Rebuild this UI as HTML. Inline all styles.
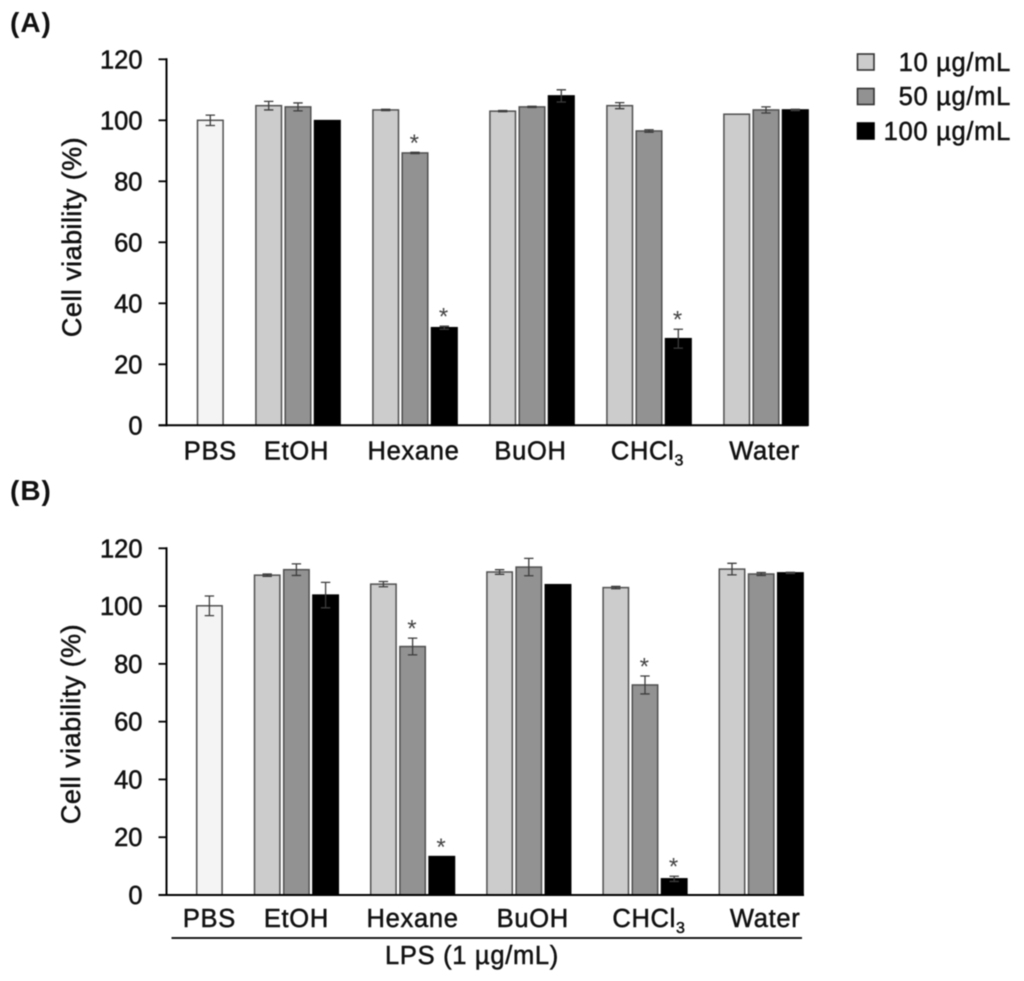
<!DOCTYPE html>
<html lang="en">
<head>
<meta charset="utf-8">
<title>Cell viability chart</title>
<style>
html,body{margin:0;padding:0;background:#fff;width:1024px;height:981px;overflow:hidden}
svg{display:block;filter:blur(0.45px)}
text{font-family:"Liberation Sans",sans-serif;fill:#111}
.t{font-size:25.5px;stroke:#111;stroke-width:.5px}
.w{letter-spacing:.7px}
.title{font-size:27px;letter-spacing:.45px}
</style>
</head>
<body>
<svg id="figure" xmlns="http://www.w3.org/2000/svg" width="1024" height="981" viewBox="0 0 1024 981">
  <text x="10" y="32" font-size="28" font-weight="bold" letter-spacing="1">(A)</text>
  <text x="10" y="500" font-size="28" font-weight="bold" letter-spacing="1">(B)</text>
  <g>
    <rect x="857.5" y="54" width="16.5" height="16" fill="#cccccc" stroke="#333" stroke-width="1.6"/>
    <text class="t w" x="1011" y="71" text-anchor="end">10 µg/mL</text>
    <rect x="857.5" y="88.5" width="16.5" height="16" fill="#929292" stroke="#333" stroke-width="1.6"/>
    <text class="t w" x="1011" y="105" text-anchor="end">50 µg/mL</text>
    <rect x="857.5" y="123" width="16.5" height="16" fill="#000" stroke="#000" stroke-width="1.6"/>
    <text class="t w" x="1011" y="140" text-anchor="end">100 µg/mL</text>
  </g>
</svg>
<script>
const categories = ["PBS", "EtOH", "Hexane", "BuOH", "CHCl", "Water"];
const tickLabels = [0, 20, 40, 60, 80, 100, 120];
const seriesNames = ["control", "10", "50", "100"];
const seriesFills = ["#f4f4f4", "#cccccc", "#929292", "#000000"];

const controlA = [100, null, null, null, null, null];
const controlErrA = [1.7, 0, 0, 0, 0, 0];
const dose10A = [null, 104.8, 103.4, 103, 104.8, 102];
const dose10ErrA = [0, 1.4, 0.2, 0.2, 1, 0];
const dose50A = [null, 104.4, 89.3, 104.4, 96.5, 103.4];
const dose50ErrA = [0, 1.3, 0.2, 0.2, 0.4, 1];
const dose100A = [null, 99.9, 32, 108, 28.4, 103.4];
const dose100ErrA = [0, 0, 0.5, 2, 3.1, 0.2];
const sig50A = [0, 0, 1, 0, 0, 0];
const sig100A = [0, 0, 1, 0, 1, 0];

const controlB = [100.1, null, null, null, null, null];
const controlErrB = [3.4, 0, 0, 0, 0, 0];
const dose10B = [null, 110.7, 107.6, 111.8, 106.4, 112.8];
const dose10ErrB = [0, 0.4, 0.9, 0.8, 0.4, 2];
const dose50B = [null, 112.6, 86, 113.5, 72.7, 111.1];
const dose50ErrB = [0, 2, 2.9, 3, 3.1, 0.5];
const dose100B = [null, 103.8, 13.3, 107.4, 5.6, 111.5];
const dose100ErrB = [0, 4.4, 0, 0, 0.9, 0.2];
const sig50B = [0, 0, 1, 0, 1, 0];
const sig100B = [0, 0, 1, 0, 1, 0];

const NS = "http://www.w3.org/2000/svg";
const fig = document.getElementById("figure");

function el(tag, attrs, parent) {
  const n = document.createElementNS(NS, tag);
  for (const k in attrs) n.setAttribute(k, attrs[k]);
  parent.appendChild(n);
  return n;
}

function drawPanel(p) {
  const g = el("g", {}, fig);
  
  

  const yScale = v => p.y0 - v * (p.y0 - p.y120) / 120;
  const slotX = (cat, slot) => p.x0 + p.step * cat + p.slot * slot;

  const title = el("text", {class: "t title", "text-anchor": "middle", transform: "translate(" + p.titleX + "," + p.titleY + ") rotate(-90)"}, g);
  
  
  title.textContent = "Cell viability (%)";

  tickLabels.forEach(v => {
    const tick = el("line", {x1: 158.5, x2: 167, y1: yScale(v), y2: yScale(v), stroke: "#000", "stroke-width": 1.8}, g);
    
    
    const label = el("text", {class: "t", x: 142.5, y: yScale(v) + 9, "text-anchor": "end"}, g);
    
    
    label.textContent = v;
  });

  p.series.forEach((values, s) => {
    values.forEach((v, c) => {
      if (v === null) return;
      const slot = s === 0 ? 2 : s - 1;
      const x = slotX(c, slot);
      const top = yScale(v);
      const mid = x + p.barW / 2;
      const err = p.errors[s][c];
      const capTop = yScale(v + err);
      const rect = el("rect", {x: x, y: top, width: p.barW, height: p.y0 - top, fill: seriesFills[s], stroke: s === 3 ? "#000" : "#505050", "stroke-width": 1.5}, g);
      
      
      if (err > 0) {
        const capBottom = yScale(v - err);
        const whisker = el("path", {d: "M" + (mid - 4.7) + " " + capTop + "H" + (mid + 4.7) + "M" + mid + " " + capTop + "V" + capBottom + "M" + (mid - 4.7) + " " + capBottom + "H" + (mid + 4.7), fill: "none", stroke: "#3c3c3c", "stroke-width": 1.3}, g);
        
        
      }
      const flags = s === 2 ? p.sig50 : s === 3 ? p.sig100 : null;
      if (flags && flags[c]) {
        const star = el("text", {x: mid - 0.7, y: capTop - 1.5, "text-anchor": "middle", "font-size": 24, style: "fill:#444"}, g);
        
        
        star.textContent = "*";
      }
    });
  });

  const yAxis = el("line", {x1: 166.5, x2: 166.5, y1: p.y120 - 1, y2: p.y0 + 1, stroke: "#000", "stroke-width": 2}, g);
  
  
  const xAxis = el("line", {x1: 158.5, x2: p.xEnd, y1: p.y0, y2: p.y0, stroke: "#000", "stroke-width": 2}, g);
  
  

  categories.forEach((name, c) => {
    const center = c === 0 ? slotX(0, 2) + p.barW / 2 : slotX(c, 1) + p.barW / 2;
    const label = el("text", {class: "t w", x: center + p.labelShift(c), y: p.labelY, "text-anchor": "middle"}, g);
    
    
    label.textContent = name;
    if (name === "CHCl") {
      const sub = el("tspan", {dy: 6, "font-size": 16}, label);
      sub.textContent = "3";
    }
  });
}

drawPanel({
  id: "a", y0: 425.3, y120: 59.3, x0: 138.9, step: 117, slot: 29.3, barW: 25.6, xEnd: 808,
  titleX: 81, titleY: 237, labelY: 459.5, labelShift: c => (c === 0 ? 0 : -1.5),
  series: [controlA, dose10A, dose50A, dose100A],
  errors: [controlErrA, dose10ErrA, dose50ErrA, dose100ErrA],
  sig50: sig50A, sig100: sig100A
});

drawPanel({
  id: "b", y0: 895, y120: 548.3, x0: 138.3, step: 116.2, slot: 29.2, barW: 25.4, xEnd: 804,
  titleX: 80, titleY: 724, labelY: 927, labelShift: c => (c >= 3 ? 4 : 0),
  series: [controlB, dose10B, dose50B, dose100B],
  errors: [controlErrB, dose10ErrB, dose50ErrB, dose100ErrB],
  sig50: sig50B, sig100: sig100B
});

const lpsLine = el("line", {x1: 171.5, x2: 802, y1: 938, y2: 938, stroke: "#000", "stroke-width": 1.8}, fig);


const lpsLabel = el("text", {class: "t w", x: 472, y: 964, "text-anchor": "middle"}, fig);


lpsLabel.textContent = "LPS (1 µg/mL)";
</script>
</body>
</html>
